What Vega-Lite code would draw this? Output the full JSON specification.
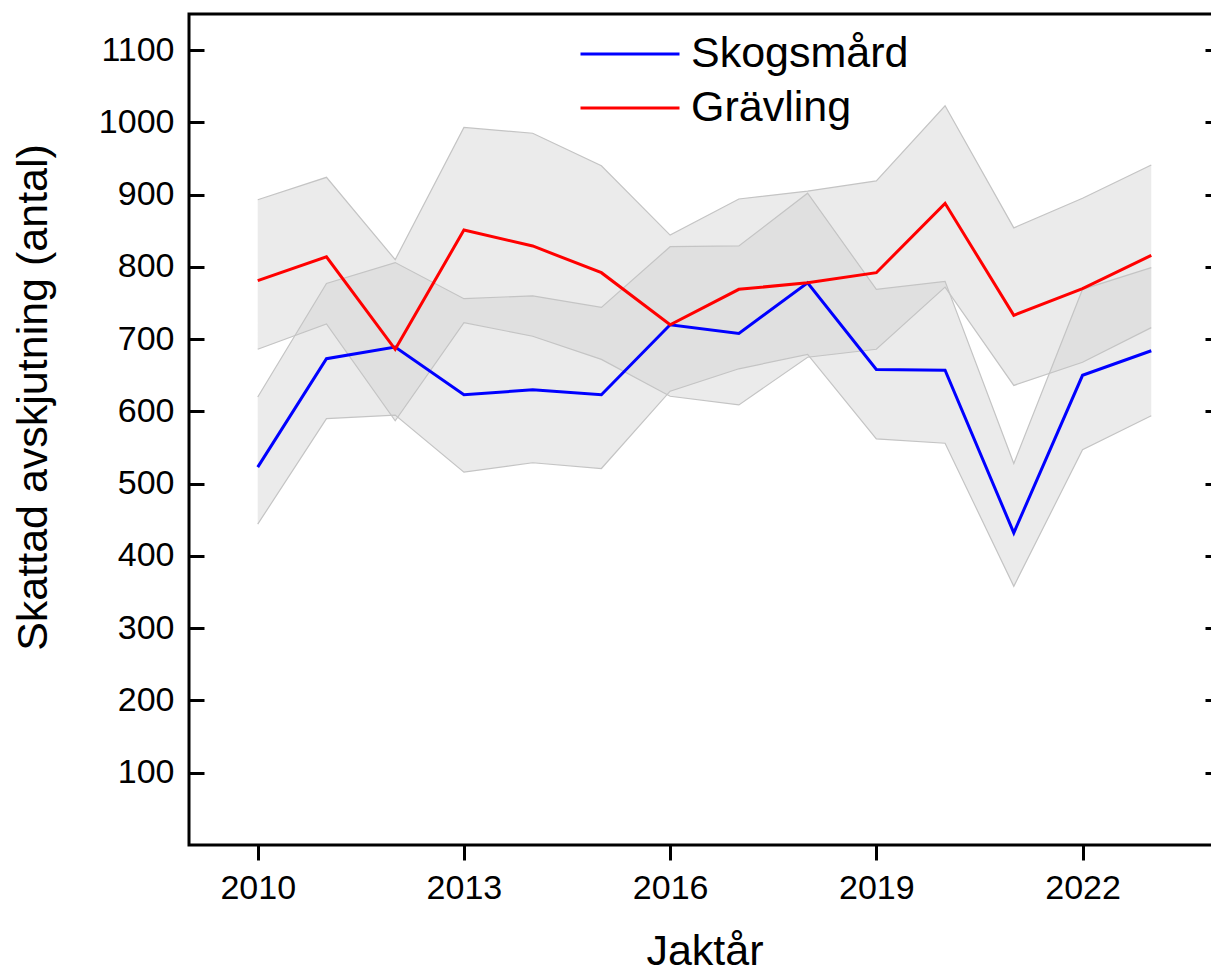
{
  "$schema": "https://vega.github.io/schema/vega-lite/v6.json",
  "width": 1031,
  "height": 831,
  "autosize": {"type": "none"},
  "padding": {"left": 189, "top": 14, "right": -9, "bottom": 125},
  "background": "white",
  "config": {
    "font": "Liberation Sans",
    "view": {"stroke": "black", "strokeWidth": 3},
    "axis": {
      "labelFont": "Liberation Sans",
      "titleFont": "Liberation Sans",
      "labelColor": "black",
      "titleColor": "black",
      "tickColor": "black",
      "domainColor": "black",
      "titleFontWeight": "normal",
      "grid": false
    },
    "legend": {"labelFont": "Liberation Sans"}
  },
  "data": {
    "values": [
      {"species": "Skogsmård", "year": 2010, "est": 523, "lo": 444, "hi": 620},
      {"species": "Skogsmård", "year": 2011, "est": 673, "lo": 590, "hi": 777},
      {"species": "Skogsmård", "year": 2012, "est": 689, "lo": 595, "hi": 806},
      {"species": "Skogsmård", "year": 2013, "est": 623, "lo": 516, "hi": 756},
      {"species": "Skogsmård", "year": 2014, "est": 630, "lo": 529, "hi": 760},
      {"species": "Skogsmård", "year": 2015, "est": 623, "lo": 521, "hi": 744},
      {"species": "Skogsmård", "year": 2016, "est": 720, "lo": 628, "hi": 828},
      {"species": "Skogsmård", "year": 2017, "est": 708, "lo": 659, "hi": 829},
      {"species": "Skogsmård", "year": 2018, "est": 778, "lo": 679, "hi": 902},
      {"species": "Skogsmård", "year": 2019, "est": 658, "lo": 562, "hi": 769},
      {"species": "Skogsmård", "year": 2020, "est": 657, "lo": 556, "hi": 780},
      {"species": "Skogsmård", "year": 2021, "est": 432, "lo": 358, "hi": 528},
      {"species": "Skogsmård", "year": 2022, "est": 650, "lo": 547, "hi": 769},
      {"species": "Skogsmård", "year": 2023, "est": 684, "lo": 594, "hi": 799},
      {"species": "Grävling", "year": 2010, "est": 781, "lo": 686, "hi": 893},
      {"species": "Grävling", "year": 2011, "est": 814, "lo": 721, "hi": 924},
      {"species": "Grävling", "year": 2012, "est": 686, "lo": 587, "hi": 810},
      {"species": "Grävling", "year": 2013, "est": 851, "lo": 723, "hi": 993},
      {"species": "Grävling", "year": 2014, "est": 829, "lo": 704, "hi": 985},
      {"species": "Grävling", "year": 2015, "est": 792, "lo": 672, "hi": 940},
      {"species": "Grävling", "year": 2016, "est": 720, "lo": 621, "hi": 844},
      {"species": "Grävling", "year": 2017, "est": 769, "lo": 609, "hi": 894},
      {"species": "Grävling", "year": 2018, "est": 778, "lo": 675, "hi": 905},
      {"species": "Grävling", "year": 2019, "est": 792, "lo": 686, "hi": 919},
      {"species": "Grävling", "year": 2020, "est": 888, "lo": 772, "hi": 1023},
      {"species": "Grävling", "year": 2021, "est": 733, "lo": 636, "hi": 854},
      {"species": "Grävling", "year": 2022, "est": 770, "lo": 668, "hi": 895},
      {"species": "Grävling", "year": 2023, "est": 816, "lo": 716, "hi": 941}
    ]
  },
  "resolve": {"axis": {"y": "independent"}},
  "layer": [
    {
      "mark": {"type": "area", "fill": "#d2d2d2", "opacity": 0.45, "stroke": null},
      "encoding": {
        "x": {
          "field": "year", "type": "quantitative",
          "scale": {"domain": [2009, 2024], "nice": false, "zero": false},
          "axis": {
            "values": [2010, 2013, 2016, 2019, 2022],
            "format": "d",
            "labelFontSize": 34,
            "tickSize": 15,
            "tickWidth": 3,
            "labelPadding": 11,
            "domain": false,
            "title": "Jaktår",
            "titleFontSize": 43,
            "titleBaseline": "alphabetic",
            "titleY": 119
          }
        },
        "y": {
          "field": "lo", "type": "quantitative",
          "scale": {"domain": [0, 1150], "nice": false, "zero": false},
          "axis": {
            "orient": "left",
            "values": [100, 200, 300, 400, 500, 600, 700, 800, 900, 1000, 1100],
            "format": "d",
            "labelFontSize": 34,
            "tickSize": -15,
            "tickWidth": 3,
            "labelPadding": 30,
            "domain": false,
            "title": "Skattad avskjutning (antal)",
            "titleFontSize": 43,
            "titleBaseline": "alphabetic",
            "titleAngle": -90,
            "titleX": -143,
            "titleY": 383
          }
        },
        "y2": {"field": "hi"},
        "detail": {"field": "species"}
      }
    },
    {
      "mark": {"type": "line", "stroke": "#c4c4c4", "strokeWidth": 1.2},
      "encoding": {
        "x": {"field": "year", "type": "quantitative"},
        "y": {
          "field": "lo", "type": "quantitative",
          "axis": {
            "orient": "right",
            "values": [100, 200, 300, 400, 500, 600, 700, 800, 900, 1000, 1100],
            "labels": false,
            "domain": false,
            "tickSize": -15,
            "tickWidth": 3,
            "title": null
          }
        },
        "detail": {"field": "species"}
      }
    },
    {
      "mark": {"type": "line", "stroke": "#c4c4c4", "strokeWidth": 1.2},
      "encoding": {
        "x": {"field": "year", "type": "quantitative"},
        "y": {"field": "hi", "type": "quantitative", "axis": null},
        "detail": {"field": "species"}
      }
    },
    {
      "transform": [{"filter": "datum.species === 'Skogsmård'"}],
      "mark": {"type": "line", "strokeWidth": 3},
      "encoding": {
        "x": {"field": "year", "type": "quantitative"},
        "y": {"field": "est", "type": "quantitative", "axis": null},
        "color": {
          "field": "species", "type": "nominal",
          "scale": {"domain": ["Skogsmård", "Grävling"], "range": ["#0000ff", "#ff0000"]},
          "legend": {
            "orient": "none",
            "legendX": 390,
            "legendY": 13,
            "title": null,
            "padding": 0,
            "symbolType": "stroke",
            "symbolSize": 9801,
            "symbolStrokeWidth": 3,
            "labelFontSize": 43,
            "labelColor": "black",
            "labelOffset": 10,
            "labelLimit": 0,
            "clipHeight": 54,
            "rowPadding": 0
          }
        }
      }
    },
    {
      "transform": [{"filter": "datum.species === 'Grävling'"}],
      "mark": {"type": "line", "strokeWidth": 3},
      "encoding": {
        "x": {"field": "year", "type": "quantitative"},
        "y": {"field": "est", "type": "quantitative", "axis": null},
        "color": {"field": "species", "type": "nominal"}
      }
    }
  ]
}
